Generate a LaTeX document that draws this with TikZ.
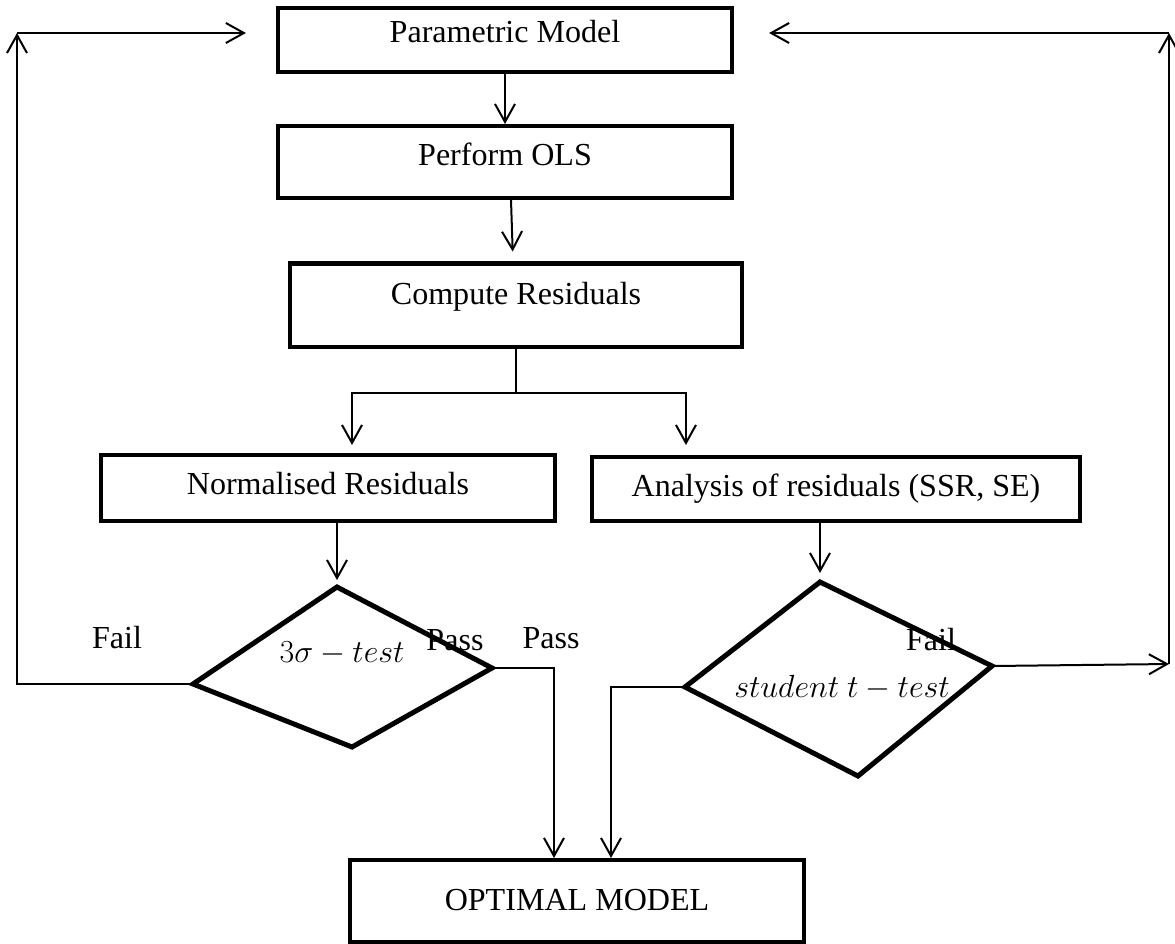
\documentclass[tikz,border=0pt]{standalone}
\usepackage{fix-cm}
\usepackage{fontspec}
\setmainfont{Liberation Serif}
\usetikzlibrary{arrows.meta}

\begin{document}
\begin{tikzpicture}[x=0.025cm, y=-0.025cm,
    >={Straight Barb[length=0.45cm,width=0.5cm]},
    every node/.style={font=\fontsize{22.8pt}{27pt}\selectfont},
    procbox/.style={draw, line width=0.1cm, inner sep=0pt, text height=0.7em, text depth=0.2em},
    flow/.style={line width=0.05cm},
    decide/.style={line width=0.125cm, line join=miter}]
\useasboundingbox (0,0) rectangle (1175,943);

\node[procbox, minimum width=11.35cm, minimum height=1.575cm, text depth=0.375em] (param) at (505,40) {Parametric Model};
\node[procbox, minimum width=11.35cm, minimum height=1.8cm, text depth=0.14em] (ols) at (505,162) {Perform OLS};
\node[procbox, minimum width=11.3cm, minimum height=2.075cm, text depth=0.825em] (comp) at (516,305) {Compute Residuals};
\node[procbox, minimum width=11.35cm, minimum height=1.65cm, text height=1.075em] (norm) at (328,488) {Normalised Residuals};
\node[procbox, minimum width=12.175cm, minimum height=1.6cm, text height=1.2em] (anal) at (836,489) {Analysis of residuals (SSR, SE)};
\node[procbox, minimum width=11.325cm, minimum height=2.05cm, text height=1.575em] (opt) at (577,901) {OPTIMAL MODEL};

\coordinate (s1t) at (337,587);
\coordinate (s1r) at (492,668);
\coordinate (s1b) at (352,747);
\coordinate (s1l) at (193,684);
\draw[decide] (s1t) -- (s1r) -- (s1b) -- (s1l) -- cycle;
\node (sig) at (342,653) {$3\sigma - test$};

\coordinate (s2t) at (820,582);
\coordinate (s2r) at (992,666);
\coordinate (s2b) at (858,776);
\coordinate (s2l) at (685,687);
\draw[decide] (s2t) -- (s2r) -- (s2b) -- (s2l) -- cycle;
\node (stu) at (842,688) {$student\ t - test$};

\node (fail1) at (117,638) {Fail};
\node (pass1) at (455,640) {Pass};
\node (pass2) at (551,638) {Pass};
\node (fail2) at (931,640) {Fail};

\coordinate (split) at (516,393);
\coordinate (lc) at (17,33);
\coordinate (rc) at (1169,33);
\coordinate (rb) at (1169,664);

\draw[flow,->] (param.south) -- (ols.north);
\draw[flow,->,shorten >=0.25cm] ([xshift=0.15cm]ols.south) -- ([xshift=0.2cm]ols.south |- comp.north);
\draw[flow] (comp.south) -- (split);
\draw[flow,->,shorten >=0.2cm] (split) -| ([xshift=0.6cm]norm.north);
\draw[flow,->,shorten >=0.25cm] (split) -| ([xshift=-3.75cm]anal.north);
\draw[flow,->,shorten >=0.175cm] (norm.south -| s1t) -- (s1t);
\draw[flow,->,shorten >=0.225cm] (anal.south -| s2t) -- (s2t);

\draw[flow,->] (s1l) -| (lc);
\draw[flow,->,shorten >=0.75cm] (lc) -- (lc -| param.west);
\draw[flow,->] (s2r) -- (rb);
\draw[flow,->] (rb) -- (rc);
\draw[flow,->,shorten >=0.875cm] (rc) -- (rc -| param.east);

\draw[flow,->] (s1r) -| ([xshift=-0.575cm]opt.north);
\draw[flow,->] (s2l) -| ([xshift=0.85cm]opt.north);
\end{tikzpicture}
\end{document}
